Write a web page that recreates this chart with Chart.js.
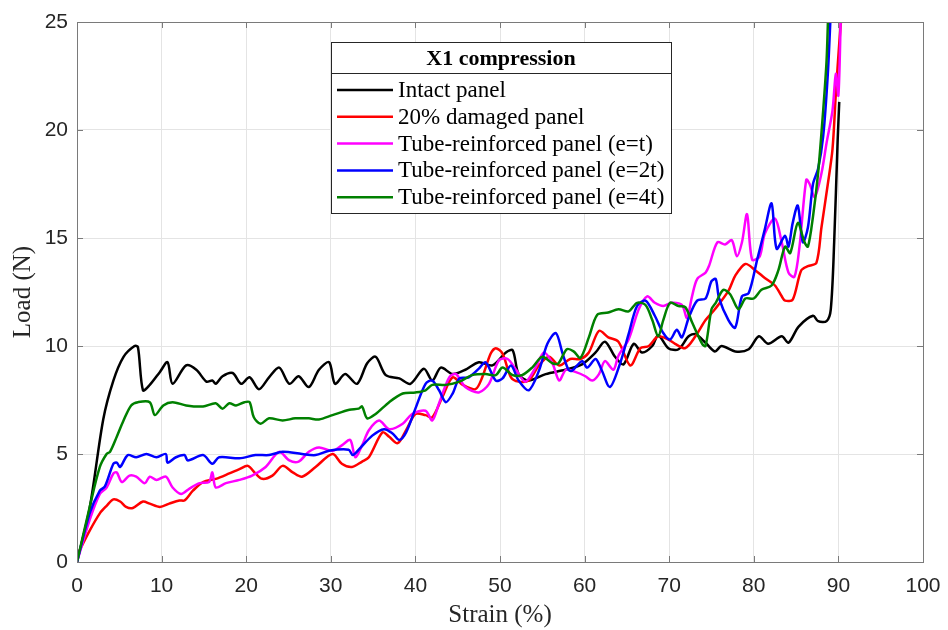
<!DOCTYPE html>
<html>
<head>
<meta charset="utf-8">
<script src="https://cdn.jsdelivr.net/npm/chart.js@4.4.1/dist/chart.umd.min.js"></script>
<style>
  html, body { margin: 0; padding: 0; background: #fff; }
  #wrap { width: 948px; height: 630px; }
</style>
</head>
<body>
<div id="wrap"><canvas id="load-chart"></canvas></div>
<script>
// --- Data: strain (%) and load (N) for each panel ---
const seriesNames = [
    'Intact panel',
    '20% damaged panel',
    'Tube-reinforced panel (e=t)',
    'Tube-reinforced panel (e=2t)',
    'Tube-reinforced panel (e=4t)'
];

const intactStrain = [0, 1.5, 3.1, 4.3, 5.5, 6.8, 7.2, 7.8, 8.6, 9.8, 10.7, 11.3, 12.9, 14.1, 15.3, 16.0, 16.4, 17.2, 18.4, 19.4, 20.4, 21.5, 22.7, 23.9, 25.1, 26.2, 27.4, 28.6, 29.8, 30.5, 31.7, 33.1, 34.3, 35.3, 36.5, 38.1, 39.4, 41.0, 42.0, 43.0, 44.4, 45.9, 47.5, 49.1, 50.7, 51.5, 52.2, 53.4, 55.4, 57.7, 59.7, 61.3, 62.4, 63.6, 64.6, 65.8, 66.8, 68.0, 68.7, 69.9, 71.1, 72.3, 73.1, 74.3, 75.4, 76.2, 77.8, 79.4, 80.6, 81.7, 83.3, 84.1, 85.3, 87.0, 87.6, 88.6, 89.1, 89.5, 89.9, 90.1];
const intactLoad   = [0, 2.5, 6.6, 8.4, 9.5, 10.0, 9.95, 7.95, 8.2, 8.8, 9.25, 8.25, 9.1, 8.9, 8.35, 8.4, 8.25, 8.6, 8.75, 8.25, 8.55, 8.0, 8.55, 9.0, 8.25, 8.6, 8.1, 8.9, 9.25, 8.25, 8.7, 8.25, 9.2, 9.5, 8.65, 8.5, 8.25, 8.95, 8.4, 9.0, 8.7, 8.9, 9.25, 9.1, 9.7, 9.8, 8.7, 8.4, 8.7, 8.9, 9.15, 9.7, 10.2, 9.5, 9.15, 10.1, 9.7, 10.0, 10.5, 9.9, 9.85, 10.45, 10.55, 10.15, 9.75, 10.0, 9.75, 9.85, 10.45, 10.1, 10.45, 10.15, 10.9, 11.4, 11.15, 11.15, 11.7, 14.8, 19.4, 21.3];

const damagedStrain = [0, 1.5, 2.7, 3.5, 4.3, 5.1, 5.8, 6.6, 7.8, 8.6, 9.8, 10.9, 12.1, 12.7, 13.7, 14.9, 16.4, 18.0, 19.2, 20.2, 21.1, 21.9, 23.1, 24.3, 25.5, 26.6, 28.2, 30.2, 31.3, 32.5, 33.7, 34.5, 36.1, 36.9, 37.9, 38.9, 40.0, 41.2, 42.0, 43.2, 44.4, 45.6, 47.1, 47.9, 48.9, 49.5, 50.3, 51.3, 52.2, 53.4, 54.6, 55.8, 57.0, 58.3, 59.5, 60.5, 61.7, 62.8, 64.0, 65.4, 66.6, 67.6, 68.7, 69.9, 70.7, 71.9, 73.1, 74.3, 75.4, 77.0, 77.8, 79.0, 80.2, 81.3, 82.5, 83.3, 83.7, 84.6, 85.6, 86.4, 87.4, 88.0, 88.75, 89.3, 89.7, 90.1, 90.4];
const damagedLoad   = [0.3, 1.45, 2.25, 2.6, 2.9, 2.8, 2.55, 2.5, 2.8, 2.7, 2.55, 2.7, 2.85, 2.85, 3.3, 3.7, 3.85, 4.1, 4.3, 4.45, 4.1, 3.85, 4.0, 4.45, 4.15, 3.95, 4.4, 5.0, 4.55, 4.4, 4.65, 4.85, 6.0, 5.8, 5.5, 6.1, 6.85, 6.8, 6.7, 7.65, 8.55, 8.2, 8.0, 8.55, 9.65, 9.9, 9.65, 8.55, 8.35, 8.4, 9.1, 9.5, 9.1, 9.4, 9.4, 9.7, 10.7, 10.4, 10.2, 9.1, 9.9, 10.0, 10.45, 10.3, 10.1, 9.9, 10.45, 11.2, 11.7, 12.55, 13.25, 13.8, 13.5, 13.15, 12.8, 12.3, 12.1, 12.15, 13.5, 13.7, 13.85, 15.5, 17.5, 19.1, 21.7, 24.0, 25.5];

const tubeTStrain = [0, 1.5, 2.7, 3.5, 4.3, 4.7, 5.3, 6.2, 7.0, 8.0, 8.6, 9.4, 10.5, 11.3, 12.3, 13.3, 14.5, 15.6, 16.0, 16.4, 17.6, 19.2, 20.7, 22.3, 23.9, 25.1, 26.2, 27.4, 28.6, 30.2, 31.3, 32.3, 32.9, 33.7, 34.5, 35.7, 36.9, 38.5, 39.6, 41.2, 42.0, 42.8, 44.0, 44.8, 45.9, 47.5, 48.7, 49.9, 50.9, 51.9, 53.0, 54.2, 55.2, 56.2, 57.0, 57.8, 58.9, 60.1, 60.9, 61.7, 62.4, 63.4, 64.0, 65.2, 66.4, 67.4, 68.3, 69.3, 70.3, 71.5, 72.1, 72.7, 73.3, 74.3, 74.7, 75.7, 76.6, 77.4, 78.0, 78.6, 79.2, 79.8, 80.7, 81.3, 82.5, 83.3, 84.1, 84.8, 85.4, 86.2, 86.6, 87.2, 88.0, 88.6, 89.3, 89.7, 90.0, 90.3];
const tubeTLoad   = [0, 1.95, 3.15, 3.45, 4.1, 4.15, 3.7, 4.0, 3.95, 3.65, 3.95, 3.8, 3.95, 3.45, 3.15, 3.4, 3.65, 3.7, 4.15, 3.45, 3.65, 3.8, 4.0, 4.4, 5.1, 4.7, 4.65, 5.1, 5.3, 5.15, 5.4, 5.65, 4.85, 5.4, 6.1, 6.55, 6.15, 6.4, 6.85, 7.0, 6.55, 7.35, 8.55, 8.7, 8.1, 7.85, 8.25, 9.35, 9.4, 8.9, 8.35, 9.0, 9.7, 9.2, 8.4, 8.9, 8.8, 8.6, 8.4, 8.7, 9.3, 8.9, 9.55, 10.3, 11.7, 12.3, 12.0, 11.85, 12.0, 11.9, 11.3, 12.3, 13.1, 13.4, 13.7, 14.8, 14.7, 14.9, 14.15, 14.8, 16.1, 14.0, 14.15, 15.2, 15.9, 14.8, 13.4, 13.2, 14.6, 17.7, 17.5, 16.9, 18.0, 19.4, 20.9, 22.6, 21.6, 25.5];

const tube2tStrain = [0, 1.5, 2.7, 3.3, 4.3, 4.7, 5.1, 6.0, 7.0, 8.2, 9.4, 10.5, 10.7, 11.7, 12.7, 13.1, 14.9, 16.0, 16.8, 19.2, 21.1, 22.7, 24.3, 26.6, 28.2, 29.8, 32.1, 32.6, 33.3, 34.9, 36.3, 37.3, 38.1, 38.9, 40.0, 41.2, 42.0, 42.8, 43.6, 44.4, 45.2, 46.3, 47.5, 48.3, 49.5, 50.3, 51.3, 52.2, 53.4, 54.6, 55.6, 56.6, 57.4, 58.1, 58.5, 59.7, 60.3, 61.3, 62.0, 63.0, 64.2, 65.2, 66.2, 67.2, 68.3, 69.3, 70.1, 70.9, 71.5, 72.3, 73.3, 74.3, 75.0, 75.5, 75.9, 77.0, 77.8, 78.6, 79.4, 80.4, 81.3, 82.1, 82.7, 83.7, 84.1, 84.6, 85.2, 85.8, 86.4, 87.0, 87.6, 88.2, 88.75, 89.1];
const tube2tLoad   = [0, 2.25, 3.3, 3.5, 4.55, 4.6, 4.4, 4.95, 4.85, 5.0, 4.85, 5.0, 4.6, 4.85, 4.95, 4.7, 4.95, 4.55, 4.85, 4.8, 4.95, 4.95, 5.1, 5.0, 4.95, 5.15, 5.2, 4.95, 5.2, 5.85, 6.15, 5.95, 5.65, 6.0, 7.1, 8.25, 8.4, 7.95, 7.4, 7.8, 8.5, 8.55, 8.95, 9.25, 8.4, 8.5, 9.1, 8.4, 7.95, 8.85, 10.1, 10.6, 9.65, 8.9, 8.85, 9.3, 9.0, 9.4, 8.9, 8.1, 9.2, 10.55, 11.85, 12.1, 11.4, 10.6, 10.3, 10.75, 10.4, 11.3, 12.1, 12.2, 13.0, 13.1, 12.2, 11.2, 10.85, 12.3, 12.45, 14.0, 15.4, 16.6, 14.5, 15.1, 14.6, 15.7, 16.5, 14.8, 15.5, 17.5, 18.2, 19.7, 22.6, 25.5];

const tube4tStrain = [0, 1.5, 2.7, 3.5, 3.9, 4.7, 5.5, 6.4, 7.2, 8.6, 9.2, 10.2, 11.3, 12.9, 14.9, 16.4, 17.2, 18.0, 18.8, 19.8, 20.4, 20.9, 21.7, 22.7, 24.3, 25.8, 27.4, 28.6, 30.2, 32.2, 33.3, 33.7, 34.3, 35.3, 36.9, 38.5, 40.0, 41.2, 42.0, 43.6, 45.2, 46.7, 48.3, 49.5, 50.3, 51.5, 52.6, 53.8, 55.0, 56.2, 56.9, 57.9, 58.7, 59.5, 60.5, 61.5, 62.8, 64.0, 65.2, 66.2, 67.2, 68.0, 68.7, 69.3, 70.1, 71.1, 71.9, 72.7, 73.9, 74.3, 75.0, 75.5, 76.4, 77.2, 78.2, 79.0, 80.0, 80.9, 82.1, 82.9, 83.7, 84.3, 85.2, 86.0, 86.4, 87.0, 87.6, 88.2, 88.6, 88.8];
const tube4tLoad   = [0, 2.55, 4.4, 5.0, 5.1, 5.8, 6.55, 7.25, 7.4, 7.4, 6.8, 7.25, 7.4, 7.25, 7.2, 7.35, 7.1, 7.35, 7.25, 7.4, 7.4, 6.7, 6.4, 6.65, 6.55, 6.65, 6.65, 6.6, 6.8, 7.05, 7.1, 7.2, 6.65, 6.85, 7.4, 7.8, 7.85, 7.95, 8.2, 8.2, 8.35, 8.65, 8.7, 8.65, 9.0, 8.65, 8.65, 9.0, 9.5, 9.2, 9.2, 9.85, 9.75, 9.45, 10.4, 11.45, 11.55, 11.7, 11.6, 12.0, 11.9, 11.2, 10.45, 11.2, 12.0, 11.85, 11.8, 11.1, 10.1, 10.0, 11.7, 12.0, 12.6, 12.4, 11.7, 12.2, 12.2, 12.6, 12.8, 13.5, 14.6, 14.3, 15.7, 14.8, 14.6, 16.0, 18.0, 20.9, 23.2, 25.5];

const xTicks = [0, 10, 20, 30, 40, 50, 60, 70, 80, 90, 100];
const yTicks = [0, 5, 10, 15, 20, 25];

const seriesStrain = [intactStrain, damagedStrain, tubeTStrain, tube2tStrain, tube4tStrain];
const seriesLoad = [intactLoad, damagedLoad, tubeTLoad, tube2tLoad, tube4tLoad];
const seriesColors = ['#000000', '#ff0000', '#ff00ff', '#0000ff', '#008000'];

const SERIF = "'Liberation Serif', 'Times New Roman', serif";
const SANS = "'Liberation Sans', Arial, sans-serif";

document.addEventListener('DOMContentLoaded', () => {

    // --- Box around the axes with small inward ticks (MATLAB style) ---
    const axesBox = {
        id: 'axesBox',
        afterDatasetsDraw(chart) {
            const { ctx, chartArea: a, scales } = chart;
            ctx.save();
            ctx.strokeStyle = '#7a7a7a';
            ctx.lineWidth = 1;
            ctx.strokeRect(a.left + 0.5, a.top + 0.5, a.right - a.left, a.bottom - a.top);
            ctx.beginPath();
            xTicks.forEach(v => {
                const px = Math.round(scales.x.getPixelForValue(v)) + 0.5;
                ctx.moveTo(px, a.bottom); ctx.lineTo(px, a.bottom - 6);
                ctx.moveTo(px, a.top); ctx.lineTo(px, a.top + 6);
            });
            yTicks.forEach(v => {
                const py = Math.round(scales.y.getPixelForValue(v)) + 0.5;
                ctx.moveTo(a.left, py); ctx.lineTo(a.left + 6, py);
                ctx.moveTo(a.right, py); ctx.lineTo(a.right - 6, py);
            });
            ctx.stroke();
            ctx.restore();
        }
    };

    // --- Legend box with a title, drawn inside the plot ---
    const boxLegend = {
        id: 'boxLegend',
        afterDraw(chart) {
            const { ctx } = chart;
            const x = 331, y = 42, w = 340, h = 171;
            ctx.save();
            ctx.fillStyle = '#ffffff';
            ctx.fillRect(x, y, w, h);
            ctx.strokeStyle = '#262626';
            ctx.lineWidth = 1;
            ctx.strokeRect(x + 0.5, y + 0.5, w, h);
            ctx.beginPath();
            ctx.moveTo(x, y + 31.5); ctx.lineTo(x + w, y + 31.5);
            ctx.stroke();

            ctx.fillStyle = '#000000';
            ctx.textBaseline = 'middle';
            ctx.textAlign = 'center';
            ctx.font = 'bold 22px ' + SERIF;
            ctx.fillText('X1 compression', x + w / 2, y + 17);

            ctx.textAlign = 'left';
            ctx.font = '23px ' + SERIF;
            chart.data.datasets.forEach((ds, i) => {
                const rowY = y + 48 + i * 26.8;
                ctx.strokeStyle = ds.borderColor;
                ctx.lineWidth = 2.5;
                ctx.beginPath();
                ctx.moveTo(x + 6, rowY); ctx.lineTo(x + 62, rowY);
                ctx.stroke();
                ctx.fillText(ds.label, x + 67, rowY + 1);
            });
            ctx.restore();
        }
    };

    const datasets = seriesNames.map((name, i) => ({
        label: name,
        data: seriesStrain[i].map((s, k) => ({ x: s, y: seriesLoad[i][k] })),
        borderColor: seriesColors[i],
        backgroundColor: seriesColors[i],
        borderWidth: 2.5,
        pointRadius: 0,
        tension: 0.3,
        order: seriesNames.length - i // later series drawn on top
    }));

    const ctx = document.getElementById('load-chart').getContext('2d');
    new Chart(ctx, {
        type: 'line',
        data: { datasets },
        options: {
            responsive: true,
            maintainAspectRatio: false,
            animation: false,
            layout: { padding: { left: 0, right: 25, top: 22, bottom: 0 } },
            plugins: {
                legend: { display: false },
                tooltip: { enabled: false }
            },
            scales: {
                x: {
                    type: 'linear',
                    min: 0,
                    max: 100,
                    afterBuildTicks: scale => { scale.ticks = xTicks.map(v => ({ value: v })); },
                    afterFit: scale => {
                        scale.height = 68;
                        scale.paddingLeft = 0;
                        scale.paddingRight = 0;
                    },
                    grid: { color: '#e4e4e4', drawTicks: false },
                    border: { display: false },
                    ticks: { color: '#262626', padding: 12, font: { family: SANS, size: 21 } },
                    title: {
                        display: true,
                        text: 'Strain (%)',
                        color: '#262626',
                        padding: { top: 0, bottom: 0 },
                        font: { family: SERIF, size: 25 }
                    }
                },
                y: {
                    min: 0,
                    max: 25,
                    afterBuildTicks: scale => { scale.ticks = yTicks.map(v => ({ value: v })); },
                    afterFit: scale => { scale.width = 77; },
                    grid: { color: '#e4e4e4', drawTicks: false },
                    border: { display: false },
                    ticks: { color: '#262626', padding: 9, font: { family: SANS, size: 21 } },
                    title: {
                        display: true,
                        text: 'Load (N)',
                        color: '#262626',
                        padding: { top: 8, bottom: 0 },
                        font: { family: SERIF, size: 25 }
                    }
                }
            }
        },
        plugins: [axesBox, boxLegend]
    });
});
</script>
</body>
</html>
